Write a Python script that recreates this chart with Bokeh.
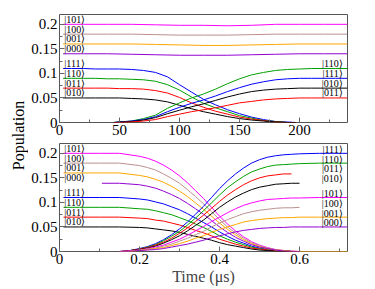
from math import pi
from bokeh.plotting import figure
from bokeh.models import Range1d, FixedTicker, NumeralTickFormatter, Label, ColumnDataSource
from bokeh.layouts import row, column
from bokeh.embed import file_html
from bokeh.resources import INLINE
from bokeh.core.properties import value

# ---------------- data: top panel (time in arbitrary units) ----------------
top_t_flat = [3, 20, 40, 60, 80, 100, 120, 140, 160, 180, 200, 220, 240]
top_101_flat = [0.200, 0.200, 0.200, 0.200, 0.199, 0.198, 0.198, 0.197, 0.198, 0.200, 0.200, 0.200, 0.200]
top_100_flat = [0.180, 0.180, 0.180, 0.180, 0.179, 0.178, 0.178, 0.178, 0.179, 0.180, 0.180, 0.180, 0.180]
top_001_flat = [0.160, 0.160, 0.160, 0.160, 0.159, 0.158, 0.157, 0.157, 0.158, 0.159, 0.160, 0.160, 0.160]
top_000_flat = [0.140, 0.140, 0.140, 0.139, 0.138, 0.137, 0.137, 0.137, 0.138, 0.139, 0.140, 0.140, 0.140]

top_t_dec = [3, 10, 20, 30, 40, 50, 60, 70, 80, 90, 100, 110, 120, 130, 140, 150, 160, 170, 180, 190, 197]
top_111_dec = [0.110, 0.110, 0.110, 0.109, 0.109, 0.109, 0.108, 0.106, 0.102, 0.093, 0.077, 0.062, 0.047, 0.036, 0.026, 0.018, 0.011, 0.006, 0.002, 0.001, 0.000]
top_110_dec = [0.090, 0.090, 0.090, 0.090, 0.089, 0.089, 0.088, 0.087, 0.084, 0.077, 0.066, 0.052, 0.039, 0.030, 0.022, 0.014, 0.009, 0.004, 0.002, 0.000, 0.000]
top_011_dec = [0.070, 0.070, 0.070, 0.070, 0.070, 0.069, 0.069, 0.068, 0.065, 0.060, 0.051, 0.040, 0.031, 0.023, 0.017, 0.011, 0.007, 0.004, 0.001, 0.000, 0.000]
top_010_dec = [0.050, 0.050, 0.050, 0.050, 0.050, 0.050, 0.049, 0.048, 0.046, 0.042, 0.035, 0.028, 0.022, 0.017, 0.012, 0.008, 0.005, 0.003, 0.001, 0.000, 0.000]

top_t_rise = [45, 50, 60, 70, 80, 90, 100, 110, 120, 130, 140, 150, 160, 170, 180, 190, 200, 210, 220, 230, 240]
top_110_rise = [0.000, 0.001, 0.003, 0.008, 0.015, 0.029, 0.040, 0.050, 0.058, 0.068, 0.079, 0.089, 0.097, 0.102, 0.106, 0.108, 0.109, 0.110, 0.110, 0.110, 0.110]
top_111_rise = [0.000, 0.001, 0.003, 0.006, 0.012, 0.022, 0.031, 0.039, 0.046, 0.054, 0.063, 0.071, 0.078, 0.083, 0.087, 0.089, 0.090, 0.090, 0.090, 0.090, 0.090]
top_010_rise = [0.000, 0.001, 0.002, 0.005, 0.010, 0.018, 0.025, 0.032, 0.038, 0.045, 0.052, 0.058, 0.063, 0.066, 0.068, 0.069, 0.070, 0.070, 0.070, 0.070, 0.070]
top_011_rise = [0.000, 0.000, 0.001, 0.003, 0.006, 0.012, 0.017, 0.022, 0.026, 0.030, 0.035, 0.040, 0.043, 0.046, 0.048, 0.049, 0.050, 0.050, 0.050, 0.050, 0.050]

top_left_labels = ["|101⟩", "|100⟩", "|001⟩", "|000⟩", "|111⟩", "|110⟩", "|011⟩", "|010⟩"]
top_left_levels = [0.20, 0.18, 0.16, 0.14, 0.11, 0.09, 0.07, 0.05]
top_right_labels = ["|110⟩", "|111⟩", "|010⟩", "|011⟩"]
top_right_levels = [0.11, 0.09, 0.07, 0.05]

# ---------------- data: bottom panel (time in µs) ----------------
bot_t_dec = [0.01, 0.05, 0.1, 0.15, 0.2, 0.22, 0.24, 0.26, 0.28, 0.3, 0.32, 0.34, 0.36, 0.38, 0.4, 0.42, 0.44, 0.46, 0.48, 0.5, 0.52, 0.54, 0.56, 0.58, 0.6]
bot_101_dec = [0.200, 0.200, 0.200, 0.200, 0.194, 0.190, 0.184, 0.176, 0.166, 0.154, 0.140, 0.124, 0.108, 0.090, 0.072, 0.056, 0.042, 0.030, 0.020, 0.013, 0.008, 0.004, 0.002, 0.001, 0.000]
bot_100_dec = [0.180, 0.180, 0.180, 0.180, 0.175, 0.171, 0.166, 0.158, 0.149, 0.139, 0.126, 0.112, 0.097, 0.081, 0.065, 0.050, 0.038, 0.027, 0.018, 0.012, 0.007, 0.004, 0.002, 0.001, 0.000]
bot_111_dec = [0.110, 0.110, 0.110, 0.110, 0.107, 0.105, 0.101, 0.097, 0.091, 0.085, 0.077, 0.068, 0.059, 0.050, 0.040, 0.031, 0.023, 0.017, 0.011, 0.007, 0.004, 0.002, 0.001, 0.000, 0.000]
bot_110_dec = [0.090, 0.090, 0.090, 0.090, 0.087, 0.086, 0.083, 0.079, 0.075, 0.069, 0.063, 0.056, 0.049, 0.041, 0.032, 0.025, 0.019, 0.014, 0.009, 0.006, 0.004, 0.002, 0.001, 0.000, 0.000]
bot_011_dec = [0.070, 0.070, 0.070, 0.070, 0.068, 0.067, 0.064, 0.062, 0.058, 0.054, 0.049, 0.043, 0.038, 0.032, 0.025, 0.020, 0.015, 0.011, 0.007, 0.005, 0.003, 0.001, 0.001, 0.000, 0.000]
bot_010_dec = [0.050, 0.050, 0.050, 0.050, 0.049, 0.048, 0.046, 0.044, 0.042, 0.039, 0.035, 0.031, 0.027, 0.023, 0.018, 0.014, 0.011, 0.008, 0.005, 0.003, 0.002, 0.001, 0.001, 0.000, 0.000]

bot_t_dec_001 = [0.01, 0.05, 0.1, 0.15, 0.2, 0.22, 0.24, 0.26, 0.28, 0.3, 0.32, 0.34, 0.36, 0.38, 0.4, 0.42, 0.44, 0.46, 0.48, 0.5, 0.52, 0.54, 0.56, 0.58, 0.6, 0.66, 0.72]
bot_001_dec = [0.160, 0.160, 0.160, 0.160, 0.155, 0.152, 0.147, 0.141, 0.133, 0.123, 0.112, 0.099, 0.086, 0.072, 0.058, 0.045, 0.034, 0.024, 0.016, 0.010, 0.006, 0.003, 0.002, 0.000, 0.000, 0.000, 0.000]

bot_t_dec_000 = [0.106, 0.15, 0.2, 0.22, 0.24, 0.26, 0.28, 0.3, 0.32, 0.34, 0.36, 0.38, 0.4, 0.42, 0.44, 0.46, 0.48, 0.5, 0.52, 0.54, 0.56, 0.58, 0.6]
bot_000_dec = [0.139, 0.139, 0.136, 0.133, 0.129, 0.123, 0.116, 0.108, 0.098, 0.087, 0.076, 0.063, 0.050, 0.039, 0.029, 0.021, 0.014, 0.009, 0.006, 0.003, 0.001, 0.000, 0.000]

bot_t_rise = [0.15, 0.17, 0.2, 0.22, 0.24, 0.26, 0.28, 0.3, 0.32, 0.34, 0.36, 0.38, 0.4, 0.42, 0.44, 0.46, 0.48, 0.5, 0.52, 0.54, 0.56, 0.58, 0.6, 0.65, 0.72]
bot_111_rise = [0.000, 0.001, 0.006, 0.010, 0.016, 0.024, 0.034, 0.046, 0.060, 0.076, 0.092, 0.110, 0.128, 0.144, 0.158, 0.170, 0.180, 0.187, 0.192, 0.195, 0.197, 0.198, 0.199, 0.200, 0.200]
bot_110_rise = [0.000, 0.001, 0.005, 0.009, 0.014, 0.022, 0.031, 0.041, 0.054, 0.068, 0.083, 0.099, 0.115, 0.130, 0.142, 0.153, 0.162, 0.168, 0.173, 0.176, 0.177, 0.178, 0.179, 0.180, 0.180]
bot_011_rise = [0.000, 0.001, 0.005, 0.008, 0.013, 0.019, 0.027, 0.037, 0.048, 0.061, 0.074, 0.088, 0.102, 0.115, 0.126, 0.136, 0.144, 0.150, 0.154, 0.156, 0.158, 0.158]
bot_010_rise = [0.000, 0.001, 0.004, 0.007, 0.011, 0.017, 0.024, 0.032, 0.042, 0.053, 0.064, 0.077, 0.090, 0.101, 0.111, 0.119, 0.126, 0.131, 0.134, 0.137, 0.138, 0.139, 0.139]
bot_101_rise = [0.000, 0.001, 0.003, 0.006, 0.009, 0.013, 0.019, 0.025, 0.033, 0.042, 0.051, 0.061, 0.070, 0.079, 0.087, 0.094, 0.099, 0.103, 0.106, 0.107, 0.108, 0.109, 0.109, 0.110, 0.110]
bot_100_rise = [0.000, 0.000, 0.003, 0.005, 0.007, 0.011, 0.015, 0.021, 0.027, 0.034, 0.041, 0.050, 0.058, 0.065, 0.071, 0.077, 0.081, 0.084, 0.086, 0.088, 0.089, 0.089, 0.090]
bot_001_rise = [0.000, 0.000, 0.002, 0.004, 0.006, 0.008, 0.012, 0.016, 0.021, 0.027, 0.032, 0.039, 0.045, 0.050, 0.055, 0.060, 0.063, 0.065, 0.067, 0.068, 0.069, 0.069, 0.070, 0.070, 0.070]
bot_000_rise = [0.000, 0.000, 0.002, 0.003, 0.004, 0.006, 0.009, 0.012, 0.015, 0.019, 0.023, 0.028, 0.032, 0.036, 0.040, 0.043, 0.045, 0.047, 0.048, 0.049, 0.049, 0.050, 0.050, 0.050, 0.050]

bot_left_labels = ["|101⟩", "|100⟩", "|001⟩", "|000⟩", "|111⟩", "|110⟩", "|011⟩", "|010⟩"]
bot_left_levels = [0.20, 0.18, 0.16, 0.14, 0.11, 0.09, 0.07, 0.05]
bot_right_labels = ["|111⟩", "|110⟩", "|011⟩", "|010⟩", "|101⟩", "|100⟩", "|001⟩", "|000⟩"]
bot_right_levels = [0.20, 0.18, 0.16, 0.14, 0.11, 0.09, 0.07, 0.05]

y_ticks = [0, 0.05, 0.1, 0.15, 0.2]
y_minor = [0.025, 0.075, 0.125, 0.175]
top_x_ticks = [0, 50, 100, 150, 200]
top_x_minor = [25, 75, 125, 175, 225]
bot_x_ticks = [0, 0.2, 0.4, 0.6]
bot_x_minor = [0.1, 0.3, 0.5, 0.7]

# ---------------- styling ----------------
C = {"101": "#ff00ff", "100": "#bc8f8f", "001": "#ffa500", "000": "#9400d3",
     "111": "#0000ff", "110": "#00a000", "011": "#ff0000", "010": "#000000"}
SERIF = "Liberation Serif"
PW = 329
TOP_H = 142
BOT_H = 146


def style(p, xt, xm):
    p.outline_line_color = "#555555"
    p.outline_line_width = 1
    p.xgrid.visible = False
    p.ygrid.visible = False
    p.xaxis.ticker = FixedTicker(ticks=xt, minor_ticks=xm)
    p.yaxis.ticker = FixedTicker(ticks=y_ticks, minor_ticks=y_minor)
    p.yaxis.formatter = NumeralTickFormatter(format="0.[00]")
    for ax in (p.xaxis[0], p.yaxis[0]):
        ax.axis_line_color = None
        ax.major_tick_in = 5
        ax.major_tick_out = 0
        ax.minor_tick_in = 3
        ax.minor_tick_out = 0
        ax.major_tick_line_color = "#666666"
        ax.minor_tick_line_color = "#666666"
        ax.major_label_text_font = SERIF
        ax.major_label_text_font_size = "15px"
        ax.major_label_text_color = "#000000"
        ax.major_label_standoff = 2
        ax.axis_label_text_font = SERIF
        ax.axis_label_text_font_size = "16px"
        ax.axis_label_text_font_style = "normal"


def labels(p, xs, ys, texts, align, yoff):
    src = ColumnDataSource(dict(x=xs, y=ys, t=texts))
    p.text(x="x", y="y", text="t", source=src, text_font=value(SERIF),
           text_font_size="10px", text_align=align, text_baseline="middle",
           y_offset=yoff, text_color="#000000")


# ---------------- top panel ----------------
top = figure(width=PW, height=TOP_H, x_range=Range1d(0, 240), y_range=Range1d(0, 0.22),
             toolbar_location=None, output_backend="svg",
             min_border_left=31, min_border_right=10, min_border_top=14, min_border_bottom=20)
style(top, top_x_ticks, top_x_minor)
for k, ys in (("101", top_101_flat), ("100", top_100_flat), ("001", top_001_flat), ("000", top_000_flat)):
    top.line(top_t_flat, ys, line_color=C[k], line_width=1)
for k, ys in (("111", top_111_dec), ("110", top_110_dec), ("011", top_011_dec), ("010", top_010_dec)):
    top.line(top_t_dec, ys, line_color=C[k], line_width=1)
for k, ys in (("110", top_110_rise), ("111", top_111_rise), ("010", top_010_rise), ("011", top_011_rise)):
    top.line(top_t_rise, ys, line_color=C[k], line_width=1)
labels(top, [4] * 8, top_left_levels, top_left_labels, "left", -5)
labels(top, [236] * 4, top_right_levels, top_right_labels, "right", -5)

# ---------------- bottom panel ----------------
bot = figure(width=PW, height=BOT_H, x_range=Range1d(0, 0.72), y_range=Range1d(0, 0.22),
             toolbar_location=None, output_backend="svg",
             min_border_left=31, min_border_right=10, min_border_top=1, min_border_bottom=37)
style(bot, bot_x_ticks, bot_x_minor)
bot.xaxis.formatter = NumeralTickFormatter(format="0.[0]")
bot.xaxis.axis_label = "Time (μs)"
bot.xaxis.axis_label_standoff = 1
for k, ys in (("101", bot_101_dec), ("100", bot_100_dec), ("111", bot_111_dec),
              ("110", bot_110_dec), ("011", bot_011_dec), ("010", bot_010_dec)):
    bot.line(bot_t_dec, ys, line_color=C[k], line_width=1)
bot.line(bot_t_dec_001, bot_001_dec, line_color=C["001"], line_width=1)
bot.line(bot_t_dec_000, bot_000_dec, line_color=C["000"], line_width=1)
for k, ys in (("111", bot_111_rise), ("110", bot_110_rise), ("011", bot_011_rise),
              ("010", bot_010_rise), ("101", bot_101_rise), ("100", bot_100_rise),
              ("001", bot_001_rise), ("000", bot_000_rise)):
    bot.line(bot_t_rise[:len(ys)], ys, line_color=C[k], line_width=1)
labels(bot, [0.012] * 8, bot_left_levels, bot_left_labels, "left", -5)
labels(bot, [0.708] * 8, bot_right_labels and bot_right_levels, bot_right_labels, "right", -4)

# ---------------- shared y label ----------------
H = TOP_H + BOT_H
LW = 28
lab = figure(width=LW, height=H, x_range=Range1d(0, 1), y_range=Range1d(0, 1),
             toolbar_location=None, output_backend="svg", min_border=0)
lab.axis.visible = False
lab.grid.visible = False
lab.outline_line_color = None
lab.add_layout(Label(x=18 / LW, y=1 - 135 / H, text="Population", angle=pi / 2,
                     text_align="center", text_baseline="middle",
                     text_font=SERIF, text_font_size="16px", text_color="#000000"))

layout = row(lab, column(top, bot))
open("out.html", "w").write(file_html(layout, INLINE))
